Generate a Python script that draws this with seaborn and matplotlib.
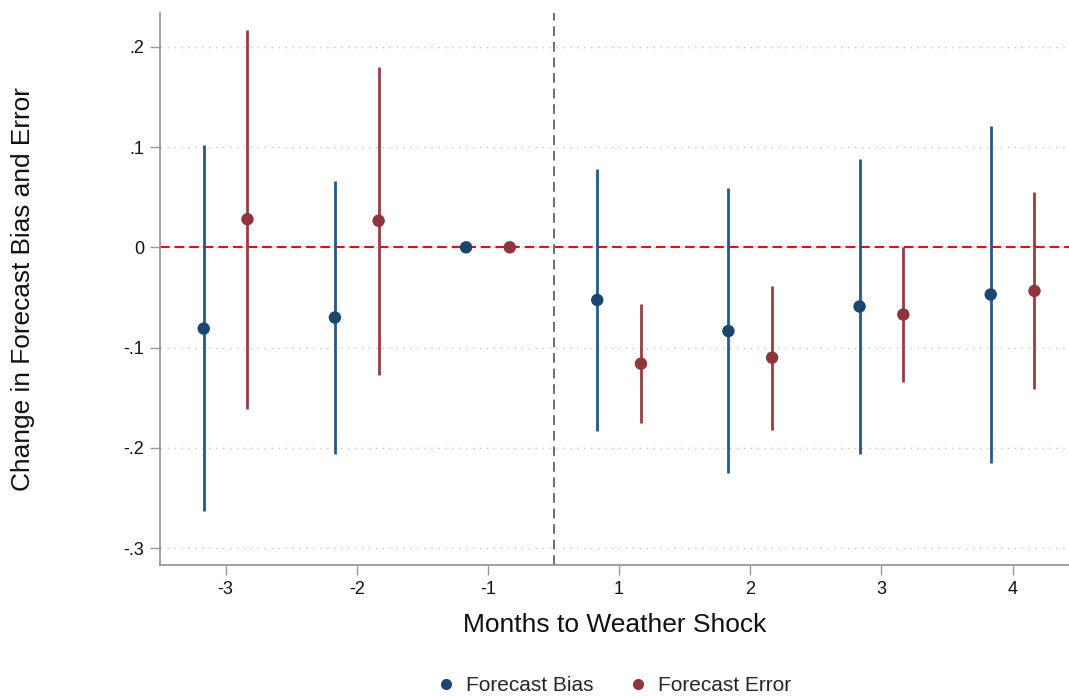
import numpy as np
import pandas as pd
import matplotlib
matplotlib.use("Agg")
import matplotlib.pyplot as plt
import seaborn as sns
from matplotlib.lines import Line2D

# Event-study estimates with 95% confidence intervals
months = [-3, -2, -1, 1, 2, 3, 4]
bias = [-0.081, -0.070, 0.0, -0.0525, -0.0835, -0.059, -0.047]
bias_lo = [-0.263, -0.206, np.nan, -0.183, -0.225, -0.206, -0.215]
bias_hi = [0.102, 0.066, np.nan, 0.078, 0.059, 0.088, 0.121]
error = [0.028, 0.0265, 0.0, -0.116, -0.110, -0.067, -0.0435]
error_lo = [-0.161, -0.127, np.nan, -0.1755, -0.182, -0.134, -0.1415]
error_hi = [0.217, 0.180, np.nan, -0.0565, -0.0385, 0.0, 0.055]
yticks = [-0.3, -0.2, -0.1, 0.0, 0.1, 0.2]
ytick_labels = ["-.3", "-.2", "-.1", "0", ".1", ".2"]

series_names = ["Forecast Bias", "Forecast Error"]
colors = {"Forecast Bias": "#1a476f", "Forecast Error": "#90353b"}
bar_colors = {"Forecast Bias": "#22598a", "Forecast Error": "#983b43"}
offsets = {"Forecast Bias": -1 / 6, "Forecast Error": 1 / 6}

pos = np.arange(len(months))
frames = []
for name, est, lo, hi in [("Forecast Bias", bias, bias_lo, bias_hi),
                          ("Forecast Error", error, error_lo, error_hi)]:
    frames.append(pd.DataFrame({
        "series": name,
        "month": months,
        "x": pos + offsets[name],
        "est": est,
        "lo": lo,
        "hi": hi,
    }))
df = pd.concat(frames, ignore_index=True)

sns.set_theme(style="white")
plt.rcParams["font.family"] = ["Liberation Sans", "DejaVu Sans"]

fig = plt.figure(figsize=(10.69, 6.96), dpi=100)
ax = fig.add_axes([160 / 1069, 1 - 565 / 696, 1 - 160 / 1069, (565 - 13.3) / 696])

# horizontal dotted grid
for yv in yticks:
    ax.axhline(yv, color="#c8c8c8", lw=1.0, ls=(0, (1, 4)), zorder=0)

# reference lines
ax.axhline(0, color="#ff0000", lw=1.4, ls=(0, (5, 2.5)), zorder=1)
ax.axvline(2.5, color="#6e6e6e", lw=1.4, ls=(0, (5, 3)), zorder=1)

# confidence intervals
for name in series_names:
    sub = df[df["series"] == name].dropna(subset=["lo", "hi"])
    ax.vlines(sub["x"], sub["lo"], sub["hi"], color=bar_colors[name], lw=2.0, zorder=2)

# point estimates
sns.scatterplot(data=df, x="x", y="est", hue="series", palette=colors,
                hue_order=series_names, s=80, edgecolor="none", legend=False,
                zorder=3, ax=ax)

ax.set_xlim(-0.5, 6.43)
ax.set_ylim(-0.3167, 0.2333)
ax.set_xticks(pos)
ax.set_xticklabels([str(m) for m in months])
ax.set_yticks(yticks)
ax.set_yticklabels(ytick_labels)
ax.tick_params(axis="both", which="major", length=7.2, width=1.0, color="#999999",
               labelsize=13, pad=4, labelcolor="#111111", left=True, bottom=True)

for side in ["top", "right"]:
    ax.spines[side].set_visible(False)
for side in ["left", "bottom"]:
    ax.spines[side].set_color("#999999")
    ax.spines[side].set_linewidth(1.3)

ax.set_xlabel("Months to Weather Shock", fontsize=19, labelpad=11, color="#111111")
ax.set_ylabel("Change in Forecast Bias and Error", fontsize=18.9, color="#111111",
              va="center", ha="center")
ax.yaxis.set_label_coords(-0.1505, 0.5)
ax.grid(False)

handles = [Line2D([0], [0], marker="o", ls="none", markersize=8,
                  markerfacecolor=colors[n], markeredgecolor="none") for n in series_names]
fig.legend(handles, series_names, loc="center", bbox_to_anchor=(0.5737, 0.0145),
           ncol=2, frameon=False, fontsize=15, handletextpad=0.45, columnspacing=1.67,
           handlelength=1.0)

fig.savefig("out.png", dpi=100, facecolor="white")
